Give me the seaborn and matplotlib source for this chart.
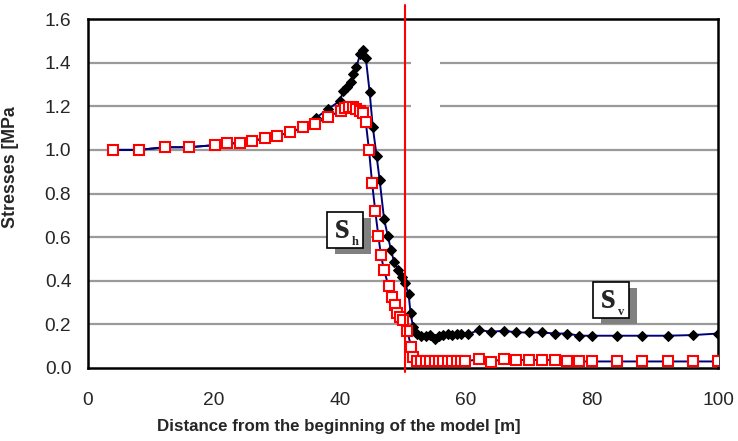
import matplotlib
matplotlib.use("Agg")
import matplotlib.pyplot as plt
import seaborn as sns
import pandas as pd
from matplotlib.patches import Rectangle

# ---- data ----
x_v = [4.0, 8.1, 12.2, 16.0, 20.2, 22.0, 24.1, 26.1, 28.1, 30.0,
       32.1, 34.1, 36.2, 38.1, 40.0, 40.5, 41.1, 41.7, 42.1, 42.6,
       43.2, 43.7, 44.1, 44.7, 45.2, 45.8, 46.3, 47.0, 47.6, 48.1,
       48.6, 49.2, 49.8, 50.3, 50.9, 51.2, 51.6, 52.2, 52.9, 53.6,
       54.3, 55.0, 55.7, 56.4, 57.1, 57.8, 58.5, 59.2, 60.3, 62.1,
       64.0, 66.1, 68.0, 70.0, 72.0, 74.1, 76.0, 78.0, 80.0, 84.0,
       88.0, 92.0, 96.0, 100.0]
y_v = [1.0, 1.0, 1.012, 1.012, 1.022, 1.03, 1.03, 1.04, 1.054, 1.065,
       1.08, 1.103, 1.147, 1.187, 1.225, 1.27, 1.286, 1.309, 1.347, 1.38,
       1.439, 1.457, 1.42, 1.266, 1.106, 0.974, 0.86, 0.681, 0.605, 0.539,
       0.486, 0.45, 0.417, 0.39, 0.337, 0.25, 0.189, 0.155, 0.148, 0.148,
       0.15, 0.133, 0.148, 0.15, 0.155, 0.15, 0.155, 0.155, 0.155, 0.174,
       0.166, 0.171, 0.163, 0.163, 0.163, 0.158, 0.158, 0.148, 0.148, 0.148,
       0.148, 0.148, 0.151, 0.158]

x_h = [4.0, 8.1, 12.2, 16.0, 20.2, 22.0, 24.1, 26.1, 28.1, 30.0,
       32.1, 34.1, 36.0, 38.1, 40.2, 40.8, 41.5, 42.0, 42.6, 43.2,
       43.7, 44.1, 44.6, 45.1, 45.6, 46.1, 46.5, 47.0, 47.7, 48.2,
       48.7, 49.1, 49.6, 50.0, 50.7, 51.3, 51.6, 52.2, 52.9, 53.6,
       54.3, 55.0, 55.7, 56.4, 57.1, 57.8, 58.5, 59.2, 59.9, 62.1,
       63.9, 66.1, 68.0, 70.0, 72.0, 74.1, 76.0, 78.0, 80.0, 84.0,
       88.0, 92.0, 96.0, 100.0]
y_h = [1.0, 1.0, 1.012, 1.012, 1.022, 1.03, 1.03, 1.04, 1.054, 1.065,
       1.08, 1.103, 1.118, 1.152, 1.18, 1.19, 1.198, 1.198, 1.187, 1.18,
       1.17, 1.126, 1.0, 0.847, 0.718, 0.603, 0.517, 0.448, 0.375, 0.326,
       0.288, 0.253, 0.235, 0.219, 0.169, 0.095, 0.052, 0.03, 0.03, 0.03,
       0.03, 0.03, 0.03, 0.03, 0.03, 0.03, 0.03, 0.03, 0.03, 0.041,
       0.029, 0.041, 0.037, 0.037, 0.037, 0.037, 0.03, 0.03, 0.03, 0.03,
       0.03, 0.03, 0.03, 0.03]

x_ticks = [0, 20, 40, 60, 80, 100]
y_ticks = [0.0, 0.2, 0.4, 0.6, 0.8, 1.0, 1.2, 1.4, 1.6]
boundary_x = 50.3
x_label = "Distance from the beginning of the model [m]"
y_label = "Stresses [MPa"

df_v = pd.DataFrame({"x": x_v, "y": y_v})
df_h = pd.DataFrame({"x": x_h, "y": y_h})

sns.set_style("white")
plt.rcParams["font.family"] = ["Liberation Sans", "DejaVu Sans"]

fig = plt.figure(figsize=(7.38, 4.41), dpi=100)
ax = fig.add_axes([88/738, 1 - 368/441, 630/738, 349/441])

ax.set_xlim(0, 100)
ax.set_ylim(0, 1.6)

# grid lines
for yv in y_ticks[1:-1]:
    ax.axhline(yv, color="#9a9a9a", lw=1.6, zorder=0)
# small gap in upper grid lines
ax.add_patch(Rectangle((51.3, 1.1), 4.6, 0.4, facecolor="white",
                       edgecolor="none", zorder=0.5))

sns.lineplot(data=df_v, x="x", y="y", ax=ax, sort=False, estimator=None,
             color="#00007a", lw=1.4, marker="D", markersize=5,
             markerfacecolor="black", markeredgecolor="black", zorder=3)
sns.lineplot(data=df_h, x="x", y="y", ax=ax, sort=False, estimator=None,
             color="#00007a", lw=1.4, marker="s", markersize=7.2,
             markerfacecolor="white", markeredgecolor="#ff0000",
             markeredgewidth=1.5, zorder=4)

ax.plot([boundary_x, boundary_x], [-0.02, 1.665], color="#ff0000", lw=1.5,
        clip_on=False, zorder=5)

ax.set_xticks(x_ticks)
ax.set_yticks(y_ticks)
ax.set_xticklabels([str(t) for t in x_ticks])
ax.set_yticklabels([f"{t:.1f}" for t in y_ticks])
ax.tick_params(axis="both", direction="out", length=6, width=1.5,
               color="black", labelsize=13.8, pad=6)
ax.tick_params(axis="x", pad=11)
for s in ax.spines.values():
    s.set_color("black")
    s.set_linewidth(1.8)
ax.set_xlabel("")
ax.set_ylabel("")

fig.text(339/738, 1 - 426/441, x_label, ha="center", va="center",
         fontsize=12.2, fontweight="bold")
fig.text(11/738, 1 - 167/441, y_label, ha="center", va="center",
         rotation=90, fontsize=12.8, fontweight="bold")

# annotation boxes with shadow
def sbox(x0, y0, sub):
    w, h = 36, 36
    fig.patches.append(Rectangle(((x0 + 8) / 738, 1 - (y0 + h + 6) / 441),
                                 w / 738, h / 441, transform=fig.transFigure,
                                 facecolor="#808080", edgecolor="none", zorder=6))
    fig.patches.append(Rectangle((x0 / 738, 1 - (y0 + h) / 441), w / 738, h / 441,
                                 transform=fig.transFigure, facecolor="white",
                                 edgecolor="black", lw=1.2, zorder=7))
    fig.text((x0 + 15) / 738, 1 - (y0 + 16) / 441, "s", ha="center", va="center",
             fontsize=27, fontweight="bold", family="Liberation Serif", zorder=8)
    fig.text((x0 + 28) / 738, 1 - (y0 + 30) / 441, sub, ha="center", va="center",
             fontsize=9, fontweight="bold", family="Liberation Serif", zorder=8)

sbox(327, 212, "h")
sbox(593, 282, "v")

fig.savefig("out.png", dpi=100)
